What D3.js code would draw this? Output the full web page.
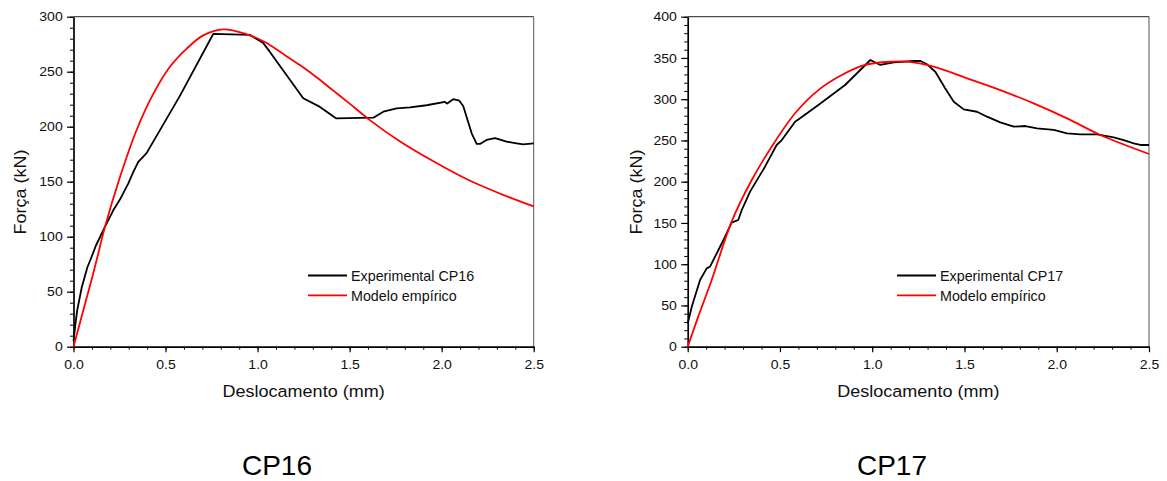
<!DOCTYPE html>
<html>
<head>
<meta charset="utf-8">
<script src="https://cdn.jsdelivr.net/npm/d3@7"></script>
<style>
  html, body { margin: 0; padding: 0; background: #fff; }
  svg { display: block; font-family: "Liberation Sans", Arial, sans-serif; }
</style>
</head>
<body>
<svg id="chart" width="1167" height="481"></svg>
<script>
// ---------- DATA ----------
const xTicks = [0.0, 0.5, 1.0, 1.5, 2.0, 2.5];
const yTicksCP16 = [0, 50, 100, 150, 200, 250, 300];
const yTicksCP17 = [0, 50, 100, 150, 200, 250, 300, 350, 400];

const cp16ExpDisp = [0, 0.01, 0.02, 0.045, 0.075, 0.099, 0.122, 0.162, 0.216, 0.253, 0.298, 0.325, 0.352, 0.397, 0.578, 0.759, 0.959, 1.031, 1.067, 1.248, 1.339, 1.426, 1.629, 1.683, 1.755, 1.828, 1.918, 2.018, 2.03, 2.063, 2.096, 2.117, 2.163, 2.19, 2.208, 2.244, 2.29, 2.353, 2.407, 2.443, 2.5];
const cp16ExpForce = [5, 20, 33, 54, 72, 82, 92, 106, 124, 134, 148.5, 159, 168, 176, 228, 284.3, 283.4, 276, 268, 225.8, 218, 207.6, 208.2, 213.6, 216.7, 217.6, 219.5, 222.5, 221, 225, 223.6, 218.8, 194, 184.3, 184.3, 188, 189.7, 186.4, 184.9, 184, 184.9];

const cp16ModDisp = [0, 0.05, 0.1, 0.126, 0.171, 0.253, 0.343, 0.434, 0.524, 0.615, 0.705, 0.814, 0.941, 1.04, 1.14, 1.23, 1.32, 1.41, 1.5, 1.61, 1.77, 1.95, 2.14, 2.32, 2.5];
const cp16ModForce = [0, 31, 62, 79, 109, 154.5, 197, 230, 254.5, 271, 283, 288.5, 284, 277, 266, 256, 245, 233, 221, 206, 187, 169, 152, 139, 127.5];

const cp17ExpDisp = [0, 0.022, 0.067, 0.103, 0.121, 0.157, 0.193, 0.238, 0.274, 0.293, 0.338, 0.419, 0.482, 0.51, 0.582, 0.609, 0.708, 0.853, 0.99, 1.044, 1.117, 1.225, 1.262, 1.297, 1.342, 1.395, 1.442, 1.496, 1.568, 1.622, 1.694, 1.767, 1.83, 1.893, 1.984, 2.056, 2.128, 2.218, 2.309, 2.363, 2.417, 2.453, 2.5];
const cp17ExpForce = [28, 48.5, 80.8, 95, 97, 113, 129, 150.3, 153.6, 165.7, 188, 218.2, 244.5, 250.5, 272.7, 276.8, 293, 317.2, 347.5, 341.5, 344.7, 346.3, 346.3, 342.3, 333.3, 313.2, 297, 287.7, 284.8, 278.8, 272, 266.7, 267.5, 264.7, 262.7, 258.7, 257.4, 257.4, 253.8, 250.5, 246.5, 244.5, 244.5];

const cp17ModDisp = [0, 0.057, 0.13, 0.238, 0.347, 0.455, 0.582, 0.708, 0.835, 0.961, 1.106, 1.189, 1.333, 1.514, 1.694, 1.875, 2.056, 2.236, 2.5];
const cp17ModForce = [0, 36.4, 80.8, 151.5, 202, 242.4, 283, 311, 329.3, 341.5, 345.5, 345.5, 339.4, 325.3, 311, 295, 276.8, 256.6, 233.6];

const panels = [
  { title: "CP16", expLabel: "Experimental CP16", modLabel: "Modelo empírico",
    yMax: 300, yTicks: yTicksCP16,
    expX: cp16ExpDisp, expY: cp16ExpForce, modX: cp16ModDisp, modY: cp16ModForce,
    left: 73.5, right: 533.7, yLabelX: 20, legendX: 308, titleX: 277 },
  { title: "CP17", expLabel: "Experimental CP17", modLabel: "Modelo empírico",
    yMax: 400, yTicks: yTicksCP17,
    expX: cp17ExpDisp, expY: cp17ExpForce, modX: cp17ModDisp, modY: cp17ModForce,
    left: 687.7, right: 1149, yLabelX: 636, legendX: 897, titleX: 892 }
];

// ---------- DRAW ----------
const svg = d3.select("#chart");
const plotTop = 16.7, plotBottom = 346.7;

panels.forEach(p => {
  const x = d3.scaleLinear().domain([0, 2.5]).range([p.left, p.right]);
  const y = d3.scaleLinear().domain([0, p.yMax]).range([plotBottom, plotTop]);
  const g = svg.append("g");

  // frame top & right
  g.append("line").attr("x1", x(0)).attr("x2", x(2.5)).attr("y1", y(p.yMax)).attr("y2", y(p.yMax))
    .attr("stroke", "#222").attr("stroke-width", 1);
  g.append("line").attr("x1", x(2.5)).attr("x2", x(2.5)).attr("y1", y(p.yMax)).attr("y2", y(0))
    .attr("stroke", "#555").attr("stroke-width", 1);

  // minor ticks
  const xMinor = d3.range(0, 26).map(i => i / 10);
  const yMinor = d3.range(0, p.yMax / 10 + 1).map(i => i * 10);
  g.append("g").attr("transform", `translate(0,${plotBottom})`)
    .call(d3.axisBottom(x).tickValues(xMinor).tickSize(3).tickSizeOuter(0).tickFormat(""))
    .call(a => a.select(".domain").remove());
  g.append("g").attr("transform", `translate(${p.left},0)`)
    .call(d3.axisLeft(y).tickValues(yMinor).tickSize(3.5).tickSizeOuter(0).tickFormat(""))
    .call(a => a.select(".domain").remove());

  // major axes
  const xa = g.append("g").attr("transform", `translate(0,${plotBottom})`)
    .call(d3.axisBottom(x).tickValues(xTicks).tickSize(5.5).tickPadding(7.5).tickSizeOuter(0).tickFormat(d3.format(".1f")));
  const ya = g.append("g").attr("transform", `translate(${p.left},0)`)
    .call(d3.axisLeft(y).tickValues(p.yTicks).tickSize(6.5).tickPadding(3.5).tickSizeOuter(0).tickFormat(d3.format("d")));
  [xa, ya].forEach(a => {
    a.select(".domain").attr("stroke", "#000").attr("stroke-width", 1.7);
    a.selectAll(".tick line").attr("stroke", "#000").attr("stroke-width", 1.2);
    a.selectAll(".tick text").attr("fill", "#111").style("font-size", "13px")
      .style("font-family", "'Liberation Sans', Arial, sans-serif")
      .attr("transform", "scale(1.08,1)");
  });
  svg.selectAll(".tick line").attr("stroke", "#000");

  // lines
  const expData = p.expX.map((d, i) => [d, p.expY[i]]);
  const modData = p.modX.map((d, i) => [d, p.modY[i]]);
  const lineLin = d3.line().x(d => x(d[0])).y(d => y(d[1]));
  const lineSmooth = d3.line().x(d => x(d[0])).y(d => y(d[1])).curve(d3.curveCatmullRom.alpha(0.5));
  g.append("path").datum(expData).attr("d", lineLin).attr("fill", "none")
    .attr("stroke", "#000").attr("stroke-width", 1.8).attr("stroke-linejoin", "round");
  g.append("path").datum(modData).attr("d", lineSmooth).attr("fill", "none")
    .attr("stroke", "#ff0000").attr("stroke-width", 1.8);

  // legend
  const lg = g.append("g");
  [[p.expLabel, "#000", 275.5], [p.modLabel, "#ff0000", 295.3]].forEach(([lab, col, ly]) => {
    lg.append("line").attr("x1", p.legendX).attr("x2", p.legendX + 39).attr("y1", ly).attr("y2", ly)
      .attr("stroke", col).attr("stroke-width", 1.8);
    lg.append("text").attr("x", p.legendX + 43).attr("y", ly + 5.2)
      .style("font-size", "14.3px").attr("fill", "#111").text(lab);
  });

  // axis titles
  const cx = (p.left + p.right) / 2;
  g.append("text").attr("transform", `translate(${cx},396.5) scale(1.06,1)`)
    .attr("text-anchor", "middle").style("font-size", "17px").attr("fill", "#111").text("Deslocamento (mm)");
  g.append("text").attr("transform", `translate(${p.yLabelX + 6},${192}) rotate(-90) scale(1.06,1)`)
    .attr("text-anchor", "middle").style("font-size", "17px").attr("fill", "#111").text("Força (kN)");

  // panel title
  svg.append("text").attr("x", p.titleX).attr("y", 475).attr("text-anchor", "middle")
    .style("font-size", "28px").attr("fill", "#000").text(p.title);
});
</script>
</body>
</html>
